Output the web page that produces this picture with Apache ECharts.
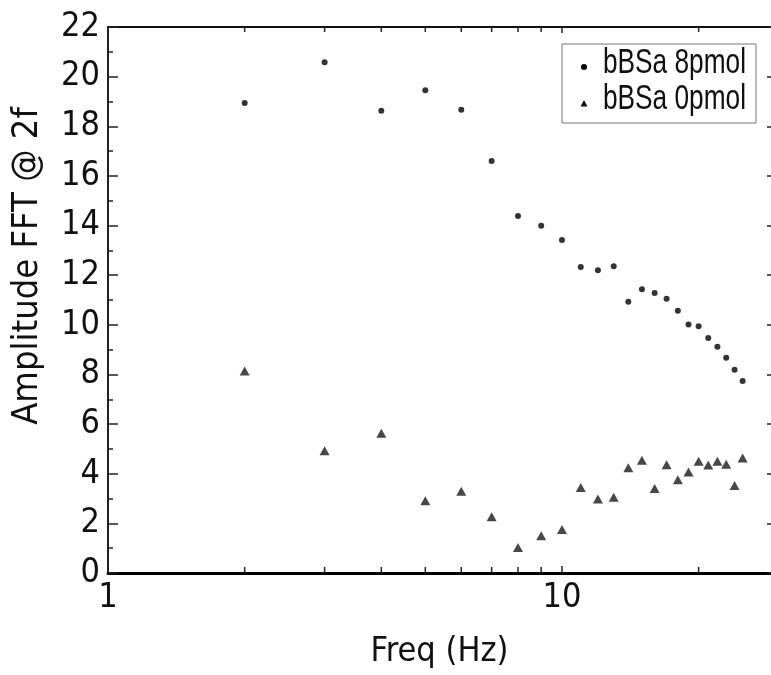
<!DOCTYPE html>
<html>
<head>
<meta charset="utf-8">
<script src="https://cdn.jsdelivr.net/npm/echarts@6/dist/echarts.min.js"></script>
<style>
html,body{margin:0;padding:0;background:#fff;}
#c{width:771px;height:675px;}
</style>
</head>
<body>
<div id="c"></div>
<script>
// Frequencies (Hz)
const freqs8 = [2,3,4,5,6,7,8,9,10,11,12,13,14,15,16,17,18,19,20,21,22,23,24,25];
const amp8 = [18.94,20.58,18.63,19.45,18.67,16.60,14.38,13.99,13.42,12.33,12.20,12.36,10.93,11.43,11.28,11.05,10.57,10.01,9.94,9.47,9.12,8.67,8.19,7.74];
const freqs0 = [2,3,4,5,6,7,8,9,10,11,12,13,14,15,16,17,18,19,20,21,22,23,24,25];
const amp0 = [8.14,4.93,5.63,2.91,3.29,2.27,1.03,1.50,1.75,3.45,2.98,3.05,4.24,4.54,3.40,4.36,3.76,4.07,4.50,4.35,4.50,4.38,3.53,4.63];
const xMinorTicks = [2,3,4,5,6,7,8,9,10,20];
const seriesNames = ['bBSa 8pmol','bBSa 0pmol'];
const xTitle = 'Freq (Hz)';
const yTitle = 'Amplitude FFT @ 2f';
const xMin = 1, xMax = 28.87, yMin = 0, yMax = 22, yStep = 2;

const axisFont = 'DejaVu Sans Condensed, DejaVu Sans';
const legendFont = 'Liberation Sans, Arial';

const chart = echarts.init(document.getElementById('c'), null, {renderer:'canvas'});

const pts8 = freqs8.map((f,i)=>[f, amp8[i]]);
const pts0 = freqs0.map((f,i)=>[f, amp0[i]]);

const option = {
  animation:false,
  backgroundColor:'#fff',
  grid:{left:108, top:27, right:0, bottom:102, containLabel:false},
  legend:{show:false, data:seriesNames},
  xAxis:[
    {type:'log', logBase:10, min:xMin, max:xMax, position:'bottom',
     axisLine:{show:true, onZero:false, lineStyle:{color:'#000', width:3}},
     axisTick:{show:false},
     splitLine:{show:false},
     axisLabel:{show:true, showMaxLabel:false, margin:8, fontFamily:axisFont, fontSize:34, color:'#111'},
     name:xTitle, nameLocation:'middle', nameGap:62,
     nameTextStyle:{fontFamily:axisFont, fontSize:34, color:'#111'}
    },
    {type:'log', logBase:10, min:xMin, max:xMax, position:'top',
     axisLine:{show:true, onZero:false, lineStyle:{color:'#111', width:2}},
     axisTick:{show:false}, axisLabel:{show:false}, splitLine:{show:false}
    }
  ],
  yAxis:[
    {type:'value', min:yMin, max:yMax, interval:yStep, position:'left',
     axisLine:{show:true, onZero:false, lineStyle:{color:'#222', width:2}},
     axisTick:{show:true, inside:true, length:10, lineStyle:{color:'#222', width:1.5}},
     minorTick:{show:true, splitNumber:2, length:5, lineStyle:{color:'#222', width:1.5}},
     splitLine:{show:false},
     axisLabel:{margin:8, fontFamily:axisFont, fontSize:34, color:'#111'}
    },
    {type:'value', min:yMin, max:yMax, interval:yStep, position:'right',
     axisLine:{show:false},
     axisTick:{show:true, inside:true, length:4, lineStyle:{color:'#222', width:1.5}},
     axisLabel:{show:false}, splitLine:{show:false}
    }
  ],
  graphic:[
    {type:'text', x:28, y:266, rotation:Math.PI/2,
     style:{text:yTitle, fontFamily:axisFont, fontSize:36, fill:'#111', textAlign:'center', textVerticalAlign:'middle'}},
    {type:'group', x:562, y:44, children:[
      {type:'rect', shape:{x:0, y:0, width:194, height:79}, style:{fill:'#fff', stroke:'#777', lineWidth:1}},
      {type:'circle', shape:{cx:22, cy:23, r:3}, style:{fill:'#000'}},
      {type:'polygon', shape:{points:[[22,56],[25.5,62.5],[18.5,62.5]]}, style:{fill:'#111'}},
      {type:'text', x:41, y:19, scaleX:0.75, style:{text:seriesNames[0], fontFamily:legendFont, fontSize:35, fill:'#111', textVerticalAlign:'middle'}},
      {type:'text', x:41, y:55, scaleX:0.75, style:{text:seriesNames[1], fontFamily:legendFont, fontSize:35, fill:'#111', textVerticalAlign:'middle'}}
    ]}
  ],
  series:[
    {name:seriesNames[0], type:'scatter', symbol:'circle', symbolSize:6,
     itemStyle:{color:'#000'}, data:pts8, xAxisIndex:0, yAxisIndex:0},
    {name:seriesNames[1], type:'scatter', symbol:'triangle', symbolSize:[10,9],
     itemStyle:{color:'#1a1a1a'}, data:pts0, xAxisIndex:0, yAxisIndex:0},
    {name:'xticks', type:'custom', xAxisIndex:0, yAxisIndex:0, silent:true,
     data: xMinorTicks.map(v=>[v,0]),
     renderItem:function(params, api){
       const v = api.value(0);
       const b = api.coord([v,yMin]);
       const t = api.coord([v,yMax]);
       const len = v===10 ? 7 : 6;
       return {type:'group', children:[
         {type:'line', shape:{x1:b[0], y1:b[1], x2:b[0], y2:b[1]-len}, style:{stroke:'#222', lineWidth:1.5}},
         {type:'line', shape:{x1:t[0], y1:t[1], x2:t[0], y2:t[1]+len-1}, style:{stroke:'#222', lineWidth:1.5}}
       ]};
     }
    }
  ]
};
chart.setOption(option);
</script>
</body>
</html>
